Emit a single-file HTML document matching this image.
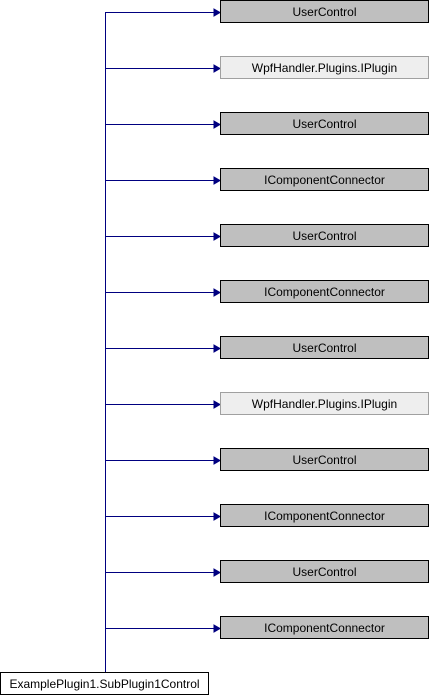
<!DOCTYPE html>
<html><head><meta charset="utf-8"><style>html,body{margin:0;padding:0;background:#fff;}svg{display:block}</style></head>
<body>
<svg width="430" height="696" xmlns="http://www.w3.org/2000/svg" font-family="Liberation Sans, Arial, sans-serif" font-size="12">
<line x1="105.5" y1="12" x2="105.5" y2="672" stroke="#000080" stroke-width="1"/>

<g stroke="#000080" stroke-width="1">
<line x1="105.5" y1="12.5" x2="215" y2="12.5"/>
<line x1="105.5" y1="68.5" x2="215" y2="68.5"/>
<line x1="105.5" y1="124.5" x2="215" y2="124.5"/>
<line x1="105.5" y1="180.5" x2="215" y2="180.5"/>
<line x1="105.5" y1="236.5" x2="215" y2="236.5"/>
<line x1="105.5" y1="292.5" x2="215" y2="292.5"/>
<line x1="105.5" y1="348.5" x2="215" y2="348.5"/>
<line x1="105.5" y1="404.5" x2="215" y2="404.5"/>
<line x1="105.5" y1="460.5" x2="215" y2="460.5"/>
<line x1="105.5" y1="516.5" x2="215" y2="516.5"/>
<line x1="105.5" y1="572.5" x2="215" y2="572.5"/>
<line x1="105.5" y1="628.5" x2="215" y2="628.5"/>
</g>
<g fill="#000080" stroke="#000080">
<polygon points="214,9 220,12.5 214,16"/>
<polygon points="214,65 220,68.5 214,72"/>
<polygon points="214,121 220,124.5 214,128"/>
<polygon points="214,177 220,180.5 214,184"/>
<polygon points="214,233 220,236.5 214,240"/>
<polygon points="214,289 220,292.5 214,296"/>
<polygon points="214,345 220,348.5 214,352"/>
<polygon points="214,401 220,404.5 214,408"/>
<polygon points="214,457 220,460.5 214,464"/>
<polygon points="214,513 220,516.5 214,520"/>
<polygon points="214,569 220,572.5 214,576"/>
<polygon points="214,625 220,628.5 214,632"/>
</g>

<g stroke="#000" fill="#bfbfbf">
<rect x="220.5" y="0.5" width="208" height="22"/>
<rect x="220.5" y="112.5" width="208" height="22"/>
<rect x="220.5" y="168.5" width="208" height="22"/>
<rect x="220.5" y="224.5" width="208" height="22"/>
<rect x="220.5" y="280.5" width="208" height="22"/>
<rect x="220.5" y="336.5" width="208" height="22"/>
<rect x="220.5" y="448.5" width="208" height="22"/>
<rect x="220.5" y="504.5" width="208" height="22"/>
<rect x="220.5" y="560.5" width="208" height="22"/>
<rect x="220.5" y="616.5" width="208" height="22"/>
</g>
<g stroke="#a0a0a0" fill="#eeeeee">
<rect x="220.5" y="56.5" width="208" height="22"/>
<rect x="220.5" y="392.5" width="208" height="22"/>
</g>

<g text-anchor="middle" fill="#000">
<text x="324.5" y="16">UserControl</text>
<text x="324.5" y="72">WpfHandler.Plugins.IPlugin</text>
<text x="324.5" y="128">UserControl</text>
<text x="324.5" y="184">IComponentConnector</text>
<text x="324.5" y="240">UserControl</text>
<text x="324.5" y="296">IComponentConnector</text>
<text x="324.5" y="352">UserControl</text>
<text x="324.5" y="408">WpfHandler.Plugins.IPlugin</text>
<text x="324.5" y="464">UserControl</text>
<text x="324.5" y="520">IComponentConnector</text>
<text x="324.5" y="576">UserControl</text>
<text x="324.5" y="632">IComponentConnector</text>
</g>

<rect x="0.5" y="672.5" width="208" height="22" fill="#fff" stroke="#000"/>
<text x="104.5" y="688" text-anchor="middle">ExamplePlugin1.SubPlugin1Control</text>
</svg>
</body></html>
